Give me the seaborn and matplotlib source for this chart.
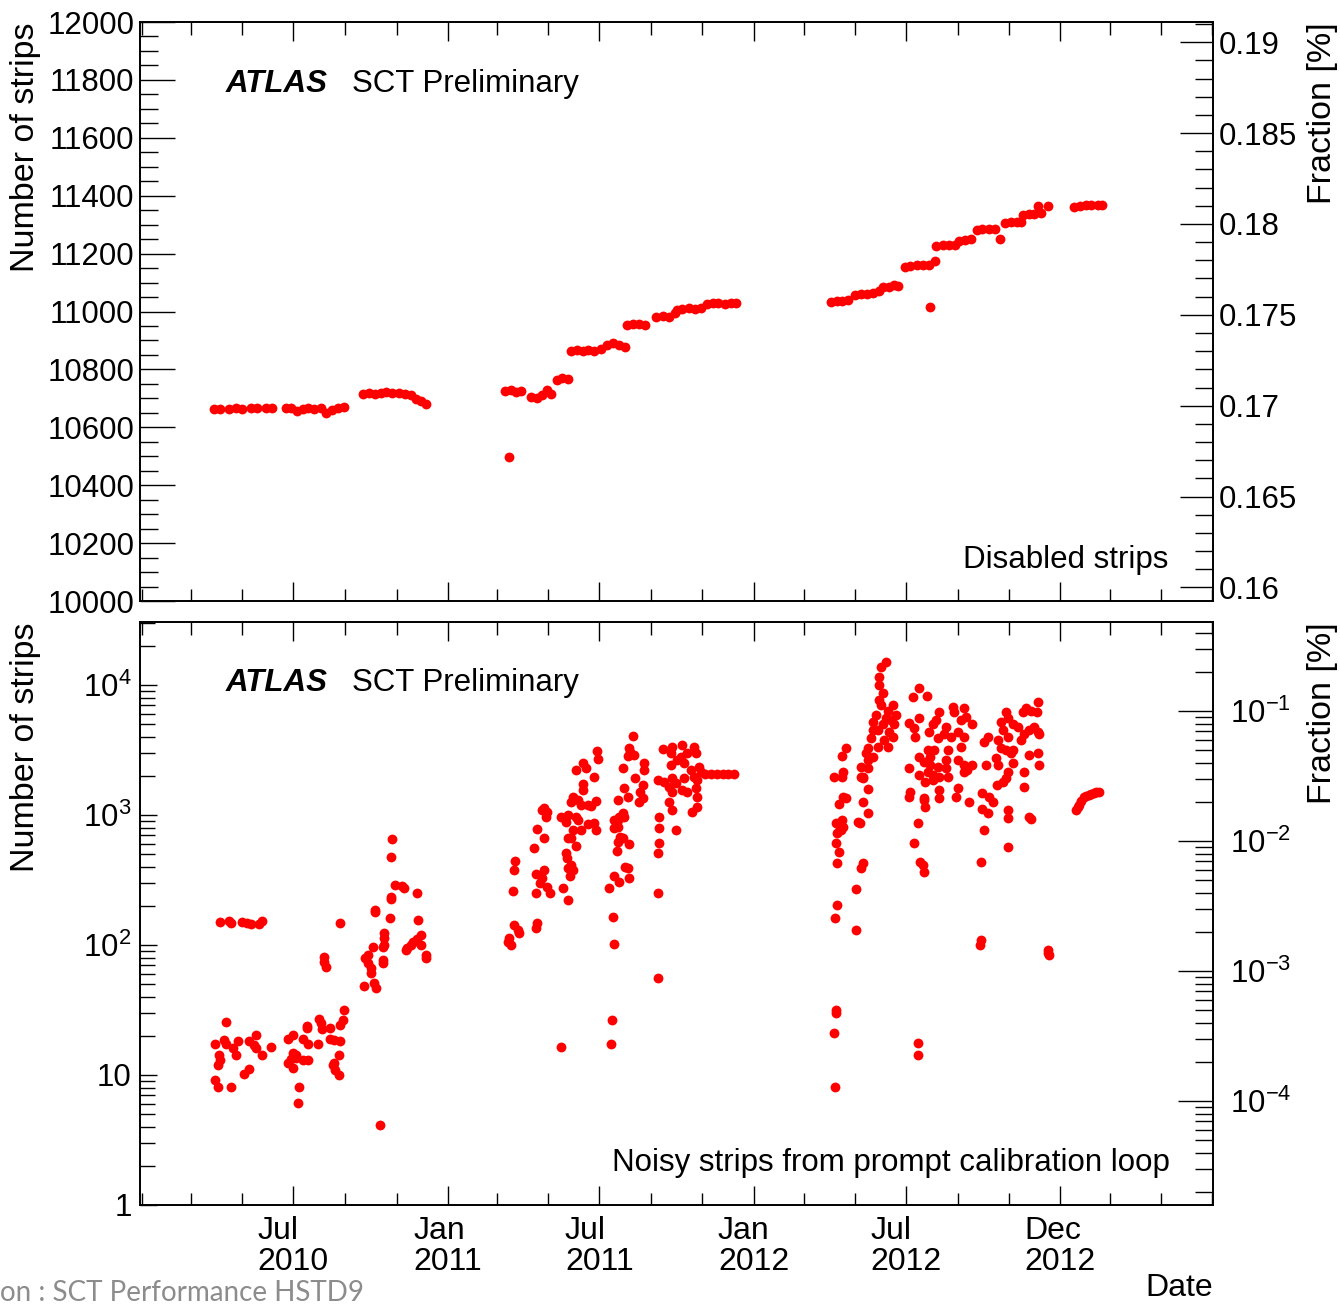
import math
import matplotlib
matplotlib.use("Agg")
import matplotlib.pyplot as plt
import matplotlib.ticker as mticker
import matplotlib.dates as mdates
import pandas as pd
import seaborn as sns

sns.set_theme(style="ticks")
plt.rcParams["font.family"] = ["Liberation Sans", "DejaVu Sans"]
plt.rcParams["mathtext.fontset"] = "custom"
plt.rcParams["mathtext.rm"] = "Liberation Sans"
plt.rcParams["mathtext.it"] = "Liberation Sans:italic"
plt.rcParams["mathtext.bf"] = "Liberation Sans:bold"
for key in ["text.color", "axes.labelcolor", "xtick.color", "ytick.color", "axes.edgecolor"]:
    plt.rcParams[key] = "black"

# nombre total de strips du SCT (pour l'axe "Fraction [%]")
N_STRIPS_SCT = 6279168
START = pd.Timestamp("2010-01-01")

# DONNEES --------------------------------
# jours depuis le 1er janvier 2010 / nombre de strips

disabled_day = [
    86, 94, 104, 112, 120, 130, 138, 148, 156,
    172, 178, 185, 192, 199,
    206, 214, 220, 227, 234, 241,
    264, 271, 278, 285, 292, 299, 307, 314, 321, 327, 333, 339,
    434, 438, 440, 447, 452,
    465, 471, 477, 483, 488,
    495, 502, 509,
    512, 519, 526, 533, 540, 548,
    555, 562, 569, 576,
    579, 586, 593, 600,
    614, 622, 629, 636,
    638, 645, 653, 660, 667,
    674, 681, 688, 696, 703, 709,
    822, 829, 836, 842,
    851, 858, 865, 872, 879,
    884, 891, 898, 902,
    910, 917, 925, 932, 939, 940, 946,
    948, 956, 963, 970,
    975, 982, 989,
    996, 1003, 1011, 1018, 1024,
    1030, 1037, 1044, 1049,
    1051, 1058, 1065, 1073, 1069, 1081,
    1112, 1119, 1126, 1133, 1141, 1145,
]
disabled_n = [
    10662, 10664, 10663, 10665, 10664, 10666, 10665, 10667, 10666,
    10666, 10668, 10655, 10664, 10668,
    10664, 10668, 10650, 10660, 10667, 10670,
    10714, 10718, 10716, 10720, 10722, 10718, 10720, 10716, 10712, 10698, 10690, 10680,
    10727, 10498, 10728, 10722, 10724,
    10706, 10700, 10712, 10728, 10715,
    10762, 10770, 10768,
    10862, 10866, 10864, 10868, 10865, 10870,
    10884, 10890, 10886, 10878,
    10952, 10956, 10958, 10955,
    10980, 10985, 10982, 10995,
    11005, 11010, 11012, 11010, 11011,
    11026, 11028, 11030, 11027, 11029, 11028,
    11032, 11035, 11036, 11040,
    11056, 11060, 11062, 11065, 11070,
    11084, 11086, 11090, 11088,
    11155, 11158, 11160, 11160, 11162, 11014, 11175,
    11225, 11228, 11230, 11229,
    11245, 11248, 11250,
    11282, 11285, 11286, 11284, 11252,
    11306, 11308, 11310, 11310,
    11334, 11336, 11338, 11340, 11363, 11365,
    11362, 11366, 11368, 11367, 11369, 11368,
]

noisy_day = [
    # 2010
    94, 104, 106, 120, 126, 130, 140, 144,
    299, 298, 302, 311, 313, 328, 297, 298, 278, 278, 296, 237, 289, 289, 289, 288,
    330, 333, 328, 324, 321, 317, 315, 333,
    339, 339, 276, 270, 267, 270, 273, 274, 288, 288, 265, 277, 279, 217, 217, 220, 284,
    100, 88, 98, 100, 109, 115, 92, 94, 91, 112, 88, 91, 106, 122, 128, 128, 134, 136, 136, 143, 154,
    175, 181, 192, 198, 197, 197, 210, 212, 214, 215, 225, 225, 229, 237, 241, 240, 237,
    180, 184, 178, 184, 174, 180, 193, 198, 235, 229, 228, 231, 235, 188, 186,
    # 2011
    586, 583, 580, 587, 581, 543, 544, 527, 530, 518, 540, 599, 599, 589, 574,
    527, 527, 514, 521, 512, 524, 532, 536, 542, 480, 484, 482, 478, 500, 508, 506, 518, 521,
    533, 540, 542, 524, 514,
    471, 480, 468, 508, 512, 518, 506, 507, 512, 515, 509, 445, 444, 470, 480, 478, 475, 484,
    487, 470, 511, 503, 508, 443,
    444, 449, 450, 438, 440, 437, 472, 470, 500,
    575, 580, 568, 574, 570, 568, 564, 575, 568, 563, 571, 574, 581, 568, 567,
    577, 580, 581, 569, 563, 557, 562, 563, 561, 560, 598, 594, 598, 593,
    617, 617, 617, 616, 616, 616,
    622, 633, 645, 659, 631, 643, 651, 661, 665, 655, 647, 639, 631,
    616, 623, 633, 637, 647, 659, 667, 663, 629, 633, 645, 651, 661, 663, 657, 663, 629, 633, 637,
    672, 679, 686, 693, 700, 707,
    # 2012
    888, 882, 880, 879, 884, 880, 882, 896, 890, 900, 894, 888, 876, 873, 884, 897, 891, 896,
    885, 890, 878, 872, 870, 878, 866, 864, 873, 867, 858, 866, 860, 861, 858,
    840, 836, 826, 836, 837, 867, 837, 832, 840, 861, 866, 828, 832, 836, 837, 834, 830, 828,
    832, 830, 854, 857, 860, 858, 852, 829, 827, 852, 828, 828, 826, 827,
    920, 927, 937, 915, 921, 922, 927, 915, 927, 927, 916, 915, 933, 934, 926, 921, 928, 932,
    933, 926, 926,
    939, 947, 951, 944, 950, 938, 945, 941, 933, 941, 950, 938, 944, 951, 935, 944, 951, 951, 933,
    959, 957, 962, 960, 959, 962, 968, 969, 981, 983, 977, 965, 974, 981, 977, 991, 974, 981,
    985, 991, 981, 974, 971, 987,
    1005, 1009, 1007, 1019, 1021, 1003, 1011, 1016, 1003, 1009, 1005, 1001, 1001, 1000,
    1025, 1027, 1022, 1025, 1031, 1034, 1039, 1033, 1031, 1037, 1040, 1039, 1034, 1031, 1028, 1020,
    1051, 1055, 1061, 1069, 1068, 1064, 1069, 1070, 1052, 1049, 1058, 1045, 1058, 1069, 1070,
    1052, 1052, 1058, 1061, 1033, 1034, 1033, 1081, 1082, 1081,
    1114, 1117, 1118, 1120, 1124, 1127, 1130, 1133, 1136, 1139, 1142,
]
noisy_n = [
    # 2010
    150, 152, 148, 150, 148, 145, 146, 152,
    654, 475, 290, 285, 275, 250, 235, 225, 185, 178, 161, 147, 123, 113, 100, 96,
    155, 120, 112, 105, 100, 95, 92, 100,
    84, 80, 96, 84, 80, 73, 66, 61, 77, 73, 48, 51, 47, 81, 74, 68, 4.1,
    25.6, 17.3, 18.6, 17.3, 16.1, 18.3, 14.3, 13.0, 11.9, 14.3, 9.1, 8.1, 8.1, 10.2, 11.1, 18.3,
    17.0, 20.3, 16.1, 14.3, 16.4,
    19.0, 20.3, 19.0, 17.3, 23.8, 22.9, 17.3, 27, 25, 22.6, 22.9, 19, 18.6, 18.3, 31.6, 26.4, 24.2,
    14.8, 14.3, 13.2, 13.5, 12.4, 11.3, 13, 13, 14.3, 12.4, 11.9, 10.9, 10, 8.1, 6.1,
    # 2011
    4050, 3050, 2840, 2900, 3280, 3130, 2710, 2500, 2300, 2220, 1970, 2500, 2220, 1940, 2300,
    1740, 1570, 1375, 1310, 1250, 1200, 1200, 1180, 1270, 1140, 1050, 960, 1090, 960, 1000, 880,
    960, 920, 855, 870, 770, 770, 770,
    780, 670, 560, 670, 670, 575, 510, 465, 410, 380, 390, 440, 380, 350, 380, 330, 300, 280,
    250, 250, 340, 275, 220, 260,
    142, 130, 123, 113, 100, 105, 147, 135, 16.4,
    1620, 1375, 1310, 1040, 960, 920, 920, 960, 810, 790, 680, 670, 600, 620, 530,
    400, 390, 330, 305, 340, 275, 165, 101, 26.5, 17.3, 1700, 1500, 1350, 1250,
    960, 790, 610, 510, 250, 55.7,
    3220, 3340, 3450, 3340, 3000, 2790, 3000, 3000, 2340, 2220, 2510, 2650, 2430,
    1860, 1790, 1930, 1760, 1930, 1970, 2130, 1860, 1640, 1500, 1560, 1500, 1620, 1370, 1050,
    1150, 1250, 1090, 770,
    2070, 2060, 2070, 2060, 2070, 2065,
    # 2012
    15000, 13700, 11500, 10000, 8700, 7670, 7010, 7010, 6360, 5880, 5380, 5560, 5880, 5200,
    4980, 4980, 4380, 4000, 3790, 3330, 4520, 4520, 3930, 3330, 3270, 3000, 2790, 2650, 2340,
    2300, 1970, 1930, 1970,
    3270, 2840, 1970, 1970, 2130, 1580, 1370, 1220, 1350, 1250, 1040, 870, 840, 920, 810, 770,
    730, 610, 520, 430, 880, 870, 430, 390, 270, 203, 161, 130, 31.6, 30, 21, 8.1,
    8100, 9500, 8200, 5100, 4660, 3990, 5560, 2300, 2790, 2040, 1500, 1370, 1310, 1150, 870,
    610, 435, 410, 365, 17.5, 14.3,
    4380, 5380, 6150, 4980, 3930, 3160, 3160, 2790, 2550, 2430, 2340, 2130, 2040, 1970, 1790,
    1860, 1560, 1350, 1350,
    4760, 4160, 3160, 2650, 2300, 1970, 6750, 6220, 6640, 5630, 5380, 4000, 4380, 4000, 3330,
    4980, 2650, 2430, 2220, 2430, 2130, 1620, 1370, 1250,
    3610, 4000, 2430, 2750, 2430, 1470, 1370, 1250, 1120, 1040, 770, 435, 110, 100,
    5200, 4520, 3790, 3270, 6150, 5560, 4980, 4000, 3160, 3000, 3160, 2510, 2130, 1930, 1790, 1700,
    6220, 6640, 6360, 7370, 6220, 4760, 4380, 4160, 4160, 3790, 4520, 4760, 2880, 3000, 2430,
    2130, 1640, 960, 930, 1090, 940, 570, 91, 84, 87,
    1090, 1150, 1200, 1280, 1370, 1400, 1420, 1450, 1470, 1490, 1510,
]

date_ticks = ["2010-07-01", "2011-01-01", "2011-07-01", "2012-01-01", "2012-07-01", "2013-01-01"]
date_labels = ["Jul\n2010", "Jan\n2011", "Jul\n2011", "Jan\n2012", "Jul\n2012", "Dec\n2012"]

assert len(disabled_day) == len(disabled_n)
assert len(noisy_day) == len(noisy_n)

disabled = pd.DataFrame({"date": START + pd.to_timedelta(disabled_day, unit="D"),
                         "strips": disabled_n})
noisy = pd.DataFrame({"date": START + pd.to_timedelta(noisy_day, unit="D"),
                      "strips": noisy_n})

# FIGURE --------------------------------
W, H = 1340, 1304
fig = plt.figure(figsize=(W / 100, H / 100), dpi=100)
fig.patch.set_facecolor("white")
ax_top = fig.add_axes([140 / W, 1 - 601 / H, 1073 / W, 579 / H])
ax_bot = fig.add_axes([140 / W, 1 - 1205 / H, 1073 / W, 583 / H])

for ax, df in [(ax_top, disabled), (ax_bot, noisy)]:
    sns.scatterplot(data=df, x="date", y="strips", ax=ax, color="#ff0000", s=50,
                    marker="o", linewidth=0, legend=False, zorder=3)
    ax.set_xlabel("")
    ax.set_ylabel("")
    ax.set_xlim(pd.Timestamp("2009-12-30"), pd.Timestamp("2013-07-02"))
    ax.xaxis.set_major_locator(mticker.FixedLocator(mdates.date2num(pd.to_datetime(date_ticks))))
    ax.xaxis.set_minor_locator(mdates.MonthLocator(bymonth=[1, 3, 5, 7, 9, 11]))
    ax.tick_params(axis="x", which="major", direction="in", length=14, width=1,
                   top=True, bottom=True, color="black")
    ax.tick_params(axis="x", which="minor", direction="in", length=9, width=1,
                   top=True, bottom=True, color="black")
    for sp in ax.spines.values():
        sp.set_color("black")
        sp.set_linewidth(1.2)

# panneau haut : strips désactivés
ax_top.set_ylim(10000, 12000)
ax_top.yaxis.set_major_locator(mticker.MultipleLocator(200))
ax_top.yaxis.set_minor_locator(mticker.MultipleLocator(50))
ax_top.yaxis.set_major_formatter(mticker.StrMethodFormatter("{x:.0f}"))
ax_top.tick_params(axis="x", labelbottom=False)
ax_top.tick_params(axis="y", which="major", direction="in", length=25, width=1,
                   labelsize=22.5, pad=4, color="black")
ax_top.tick_params(axis="y", which="minor", direction="in", length=13, width=1, color="black")

frac_top = ax_top.twinx()
frac_top.set_ylim(10000 / N_STRIPS_SCT * 100, 12000 / N_STRIPS_SCT * 100)
frac_top.yaxis.set_major_locator(mticker.MultipleLocator(0.005))
frac_top.yaxis.set_minor_locator(mticker.MultipleLocator(0.001))
frac_top.yaxis.set_major_formatter(mticker.FuncFormatter(lambda v, p: f"{v:g}"))
frac_top.tick_params(axis="y", which="major", direction="in", length=24, width=1,
                     labelsize=22.5, pad=4, color="black")
frac_top.tick_params(axis="y", which="minor", direction="in", length=13, width=1, color="black")
frac_top.grid(False)

ax_top.text(0.0801, 0.893, "ATLAS", transform=ax_top.transAxes, fontsize=22.5,
            fontweight="bold", fontstyle="italic", va="center", ha="left")
ax_top.text(0.1976, 0.893, "SCT Preliminary", transform=ax_top.transAxes, fontsize=22.5,
            va="center", ha="left")
ax_top.text(0.958, 0.071, "Disabled strips", transform=ax_top.transAxes, fontsize=22.5,
            va="center", ha="right")


# panneau bas : strips bruyants (échelle log)
def log_label(v, p):
    if v < 5:
        return "1"
    if v < 50:
        return "10"
    return "$10^{%d}$" % round(math.log10(v))


ax_bot.set_yscale("log")
ax_bot.set_ylim(1, 30500)
ax_bot.yaxis.set_major_locator(mticker.LogLocator(base=10))
ax_bot.yaxis.set_minor_locator(mticker.LogLocator(base=10, subs=range(2, 10)))
ax_bot.yaxis.set_minor_formatter(mticker.NullFormatter())
ax_bot.yaxis.set_major_formatter(mticker.FuncFormatter(log_label))
ax_bot.tick_params(axis="y", which="major", direction="in", length=12, width=1,
                   labelsize=22.5, pad=6, color="black")
ax_bot.tick_params(axis="y", which="minor", direction="in", length=11, width=1, color="black")
ax_bot.xaxis.set_major_formatter(mticker.FixedFormatter(date_labels))
ax_bot.tick_params(axis="x", which="major", labelsize=23, pad=8)
for lbl in ax_bot.get_xticklabels():
    lbl.set_multialignment("left")
    lbl.set_linespacing(1.05)

frac_bot = ax_bot.twinx()
frac_bot.set_yscale("log")
frac_bot.set_ylim(1 / N_STRIPS_SCT * 100, 30500 / N_STRIPS_SCT * 100)
frac_bot.yaxis.set_major_locator(mticker.LogLocator(base=10))
frac_bot.yaxis.set_minor_locator(mticker.LogLocator(base=10, subs=range(2, 10)))
frac_bot.yaxis.set_minor_formatter(mticker.NullFormatter())
frac_bot.yaxis.set_major_formatter(mticker.LogFormatterMathtext())
frac_bot.tick_params(axis="y", which="major", direction="in", length=25, width=1,
                     labelsize=22.5, pad=12, color="black")
frac_bot.tick_params(axis="y", which="minor", direction="in", length=13, width=1, color="black")
frac_bot.grid(False)

ax_bot.text(0.0801, 0.895, "ATLAS", transform=ax_bot.transAxes, fontsize=22.5,
            fontweight="bold", fontstyle="italic", va="center", ha="left")
ax_bot.text(0.1976, 0.895, "SCT Preliminary", transform=ax_bot.transAxes, fontsize=22.5,
            va="center", ha="left")
ax_bot.text(0.960, 0.072, "Noisy strips from prompt calibration loop", transform=ax_bot.transAxes,
            fontsize=22.5, va="center", ha="right")

# titres d'axes
for top_px in (22, 622):
    fig.text(26 / W, 1 - top_px / H, "Number of strips", rotation=90, ha="center", va="top",
             fontsize=24.5)
    fig.text(1323 / W, 1 - top_px / H, "Fraction [%]", rotation=90, ha="center", va="top",
             fontsize=24.5)
fig.text(1213 / W, 1 - 1288 / H, "Date", ha="right", va="center", fontsize=23)

fig.text(0.0, 1 - 1301 / H, "on : SCT Performance HSTD9", color="#8c8c8c", fontsize=20,
         family=["Lato", "DejaVu Sans"], ha="left", va="baseline")

fig.savefig("out.png", dpi=100, facecolor="white")
